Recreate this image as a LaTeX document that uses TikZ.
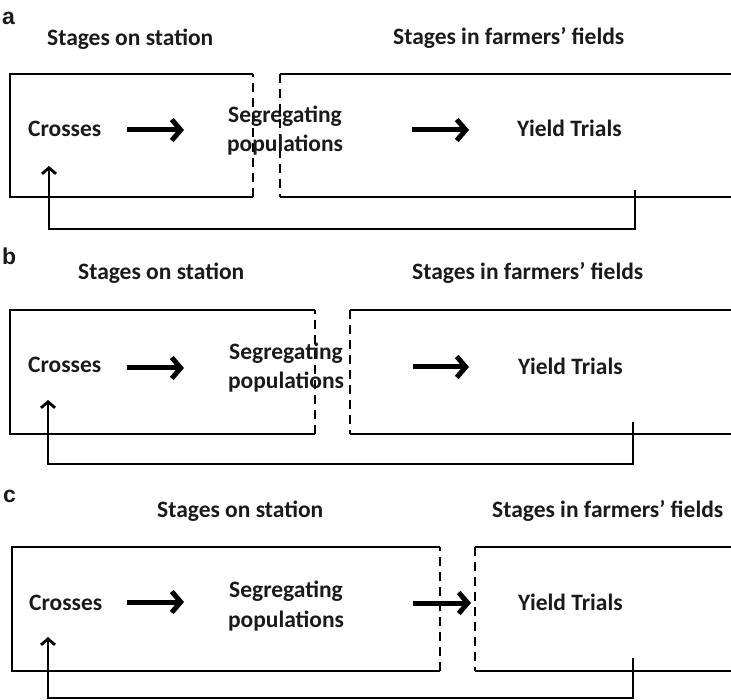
\documentclass[tikz,border=0pt]{standalone}
\usepackage{fontspec}
\setmainfont{Carlito}
\newfontfamily\panelfont{Liberation Sans}
\usetikzlibrary{arrows.meta}
\definecolor{ink}{HTML}{1A1A1A}
\tikzset{
  txt/.style={inner sep=0pt, text=ink, font=\bfseries\fontsize{23.5}{29.5}\selectfont},
  lbl/.style={inner sep=0pt, text=ink, font=\panelfont\bfseries\fontsize{23}{26}\selectfont},
  boxline/.style={line width=2.3pt, line join=miter},
  dashline/.style={line width=2.3pt, dash pattern=on 9pt off 6pt},
  bigarrow/.style={line width=5pt, -{Straight Barb[length=9pt,width=21pt]}},
  fbline/.style={line width=2.8pt, -{Straight Barb[length=6pt,width=14pt]}},
}
\begin{document}
\begin{tikzpicture}[x=1pt,y=-1pt]
\useasboundingbox (0,0) rectangle (731,700);

% ---------- panel a ----------
\node[lbl, anchor=base west] (la) at (2,25) {a};
\node[txt, anchor=base west] (sa1) at (47,46) {Stages on station};
\node[txt, anchor=base west] (sa2) at (393,45) {Stages in farmers’ fields};
\draw[boxline] (253,74) -- (10,74) -- (10,197) -- (253,197);
\draw[dashline] (253,197) -- (253,74);
\draw[boxline] (731,74) -- (280,74);
\draw[boxline] (280,197) -- (731,197);
\draw[dashline] (280,74) -- (280,197);
\node[txt, anchor=base west] (cra) at (28,137) {Crosses};
\node[txt, align=center, anchor=base] (sega) at (285,152) {Segregating\\populations};
\node[txt, anchor=base west] (yta) at (517,137) {Yield Trials};
\coordinate (a1s) at (127,130); \coordinate (a1e) at (184,130);
\coordinate (a2s) at (412,130); \coordinate (a2e) at (469,130);
\draw[bigarrow] (a1s) -- (a1e);
\draw[bigarrow] (a2s) -- (a2e);
\coordinate (fa1) at (635,190); \coordinate (fa2) at (49,166);
\draw[fbline] (fa1) -- (635,229) -| (fa2);

% ---------- panel b ----------
\node[lbl, anchor=base west] (lb) at (2,265) {b};
\node[txt, anchor=base west] (sb1) at (78,280) {Stages on station};
\node[txt, anchor=base west] (sb2) at (412,280) {Stages in farmers’ fields};
\draw[boxline] (315,310) -- (10,310) -- (10,434) -- (315,434);
\draw[dashline] (315,434) -- (315,310);
\draw[boxline] (731,310) -- (350,310);
\draw[boxline] (350,434) -- (731,434);
\draw[dashline] (350,310) -- (350,434);
\node[txt, anchor=base west] (crb) at (28,373) {Crosses};
\node[txt, align=center, anchor=base] (segb) at (286,389) {Segregating\\populations};
\node[txt, anchor=base west] (ytb) at (518,375) {Yield Trials};
\coordinate (b1s) at (127,368); \coordinate (b1e) at (184,368);
\coordinate (b2s) at (413,367); \coordinate (b2e) at (469,367);
\draw[bigarrow] (b1s) -- (b1e);
\draw[bigarrow] (b2s) -- (b2e);
\coordinate (fb1) at (633,422); \coordinate (fb2) at (48,400);
\draw[fbline] (fb1) -- (633,464) -| (fb2);

% ---------- panel c ----------
\node[lbl, anchor=base west] (lc) at (3,502) {c};
\node[txt, anchor=base west] (sc1) at (157,517) {Stages on station};
\node[txt, anchor=base west] (sc2) at (492,517) {Stages in farmers’ fields};
\draw[boxline] (440,547) -- (12,547) -- (12,671) -- (440,671);
\draw[dashline] (440,671) -- (440,547);
\draw[boxline] (731,547) -- (475,547);
\draw[boxline] (475,671) -- (731,671);
\draw[dashline] (475,547) -- (475,671);
\node[txt, anchor=base west] (crc) at (29,610) {Crosses};
\node[txt, align=center, anchor=base] (segc) at (286,627) {Segregating\\populations};
\node[txt, anchor=base west] (ytc) at (518,610) {Yield Trials};
\coordinate (c1s) at (127,602); \coordinate (c1e) at (184,602);
\coordinate (c2s) at (413,603); \coordinate (c2e) at (471,603);
\draw[bigarrow] (c1s) -- (c1e);
\draw[bigarrow] (c2s) -- (c2e);
\coordinate (fc1) at (633,658); \coordinate (fc2) at (48,637);
\draw[fbline] (fc1) -- (633,698) -| (fc2);
\end{tikzpicture}
\end{document}
